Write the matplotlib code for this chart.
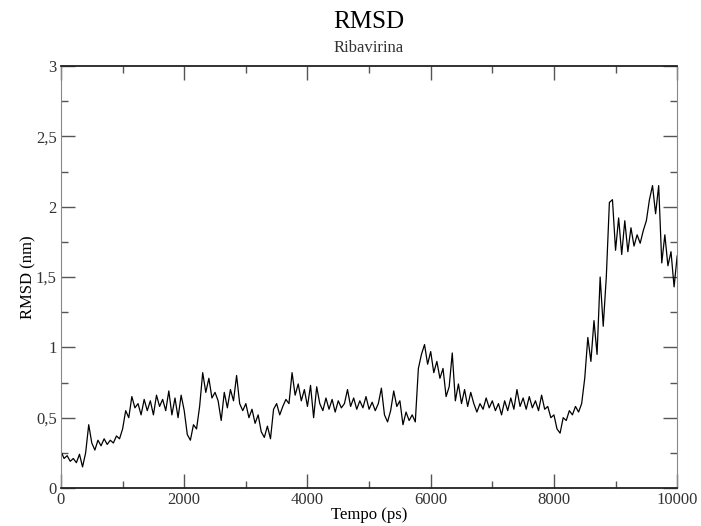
import numpy as np
import matplotlib
matplotlib.use("Agg")
import matplotlib.pyplot as plt
from matplotlib.ticker import MultipleLocator, FuncFormatter

# RMSD (nm), one value every 50 ps from 0 to 10000 ps
rmsd = [
    # 0 - 1000
    0.26, 0.21, 0.23, 0.19, 0.21, 0.18, 0.24, 0.15, 0.25, 0.45,
    0.32, 0.27, 0.34, 0.30, 0.35, 0.31, 0.34, 0.32, 0.37, 0.35, 0.42,
    # 1050 - 2000
    0.55, 0.50, 0.65, 0.57, 0.60, 0.52, 0.63, 0.55, 0.62, 0.52,
    0.66, 0.58, 0.63, 0.55, 0.69, 0.52, 0.64, 0.50, 0.66, 0.55,
    # 2050 - 4200
    0.38, 0.34, 0.45, 0.42, 0.58, 0.82, 0.68, 0.78, 0.64, 0.68,
    0.62, 0.48, 0.68, 0.57, 0.70, 0.62, 0.80, 0.60, 0.55, 0.60,
    0.50, 0.56, 0.46, 0.52, 0.40, 0.36, 0.44, 0.35, 0.56, 0.60,
    0.52, 0.58, 0.63, 0.60, 0.82, 0.66, 0.74, 0.62, 0.70, 0.58,
    0.73, 0.50, 0.72, 0.60,
    # 4250 - 6050
    0.55, 0.64, 0.56, 0.63, 0.54, 0.62, 0.57, 0.60, 0.70, 0.58,
    0.64, 0.56, 0.62, 0.57, 0.65, 0.56, 0.61, 0.55, 0.60, 0.71,
    0.52, 0.47, 0.55, 0.69, 0.58, 0.62, 0.45, 0.54, 0.48, 0.52,
    0.47, 0.85, 0.95, 1.02, 0.88, 0.97, 0.82,
    # 6100 - 8200
    0.90, 0.78, 0.85, 0.65, 0.72, 0.96, 0.62, 0.74, 0.60, 0.70,
    0.58, 0.68, 0.60, 0.54, 0.60, 0.56, 0.64, 0.57, 0.62, 0.55,
    0.60, 0.52, 0.62, 0.55, 0.64, 0.56, 0.70, 0.58, 0.64, 0.56,
    0.65, 0.57, 0.62, 0.55, 0.66, 0.56, 0.58, 0.50, 0.52, 0.42,
    0.39, 0.50, 0.48,
    # 8250 - 10000
    0.55, 0.52, 0.58, 0.54, 0.60, 0.78, 1.07, 0.90, 1.19, 0.95,
    1.50, 1.15, 1.50, 2.03, 2.05, 1.69, 1.92, 1.66, 1.90, 1.68,
    1.85, 1.72, 1.80, 1.74, 1.83, 1.90, 2.05, 2.15, 1.95, 2.15,
    1.60, 1.80, 1.58, 1.68, 1.43, 1.65,
]
tempo = np.linspace(0, 10000, len(rmsd))

plt.rcParams['font.family'] = ['Liberation Serif', 'DejaVu Serif']

fig = plt.figure(figsize=(7.01, 5.26), dpi=100)
ax = fig.add_axes([0.087, 0.0722, 0.879, 0.8023])

ax.plot(tempo, rmsd, color='black', linewidth=0.9)

ax.set_xlim(0, 10000)
ax.set_ylim(0, 3)
ax.xaxis.set_major_locator(MultipleLocator(2000))
ax.xaxis.set_minor_locator(MultipleLocator(1000))
ax.yaxis.set_major_locator(MultipleLocator(0.5))
ax.yaxis.set_minor_locator(MultipleLocator(0.25))

def virgula(v, pos):
    s = ('%g' % v)
    return s.replace('.', ',')

ax.yaxis.set_major_formatter(FuncFormatter(virgula))
ax.xaxis.set_major_formatter(FuncFormatter(lambda v, p: '%d' % v))

ax.tick_params(which='both', direction='in', top=True, right=True,
               colors='#555555', labelcolor='#333333', labelsize=12, width=1)
ax.tick_params(which='major', length=10, pad=3)
ax.tick_params(which='minor', length=5)
for side in ['left', 'right']:
    ax.spines[side].set_color('#888888')
for side in ['top', 'bottom']:
    ax.spines[side].set_color('#222222')
    ax.spines[side].set_linewidth(1.3)

ax.set_xlabel('Tempo (ps)', fontsize=12, labelpad=-1)
ax.set_ylabel('RMSD (nm)', fontsize=12, labelpad=0)

fig.text(0.526, 0.958, 'RMSD', ha='center', va='center', fontsize=18)
fig.text(0.526, 0.909, 'Ribavirina', ha='center', va='center', fontsize=12,
         color='#333333')

plt.savefig('out.png', dpi=100)
